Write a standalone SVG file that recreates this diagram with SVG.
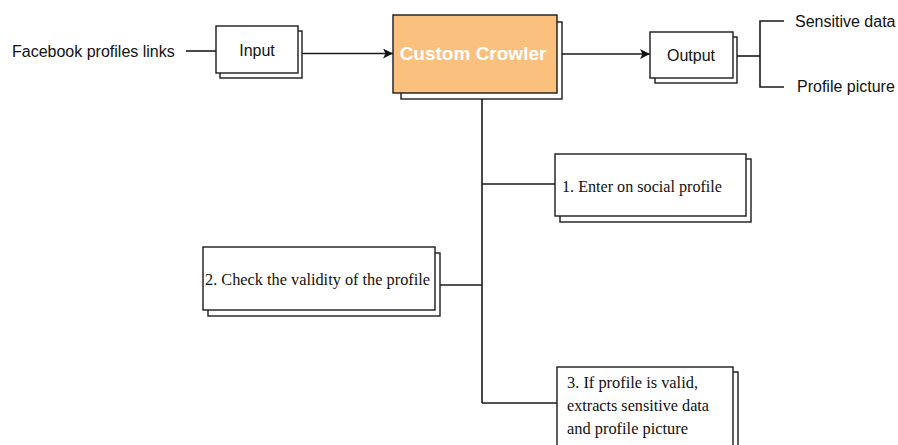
<svg xmlns="http://www.w3.org/2000/svg" width="898" height="445" viewBox="0 0 898 445">
<style>
.box{fill:#fff;stroke:#1a1a1a;stroke-width:1.4}
.main{fill:#F9C17D;stroke:#1a1a1a;stroke-width:1.4}
.ln{fill:none;stroke:#1a1a1a;stroke-width:1.6}
.sans{font-family:"Liberation Sans",Arial,sans-serif;font-size:16px;fill:#111}
.serif{font-family:"Liberation Serif","Times New Roman",serif;font-size:17.5px;fill:#111}
.title{font-family:"Liberation Sans",Arial,sans-serif;font-size:19px;font-weight:bold;fill:#fff}
</style>
<defs>
<marker id="arr" viewBox="0 0 10 10" refX="10" refY="5" markerWidth="10" markerHeight="10" markerUnits="userSpaceOnUse" orient="auto">
<path d="M0,0 L10,5 L0,10 L2.5,5 z" fill="#111"/>
</marker>
</defs>
<rect width="898" height="445" fill="#fff"/>
<g id="connectors">
<line class="ln" x1="186" y1="51" x2="216" y2="51"/>
<line class="ln" x1="298" y1="53.5" x2="393" y2="53.5" marker-end="url(#arr)"/>
<line class="ln" x1="557" y1="54" x2="650" y2="54" marker-end="url(#arr)"/>
<polyline class="ln" points="737,56 760,56"/>
<polyline class="ln" points="784,21 760,21 760,87 784,87"/>
<line class="ln" x1="482" y1="99" x2="482" y2="403"/>
<line class="ln" x1="482" y1="184" x2="555" y2="184"/>
<line class="ln" x1="440" y1="285" x2="482" y2="285"/>
<line class="ln" x1="482" y1="403" x2="557" y2="403"/>
</g>
<g id="facebook-links">
<text class="sans" x="12" y="56.5">Facebook profiles links</text>
</g>
<g id="input">
<rect class="box" x="220" y="31" width="82" height="47"/>
<rect class="box" x="216" y="26" width="82" height="47"/>
<text class="sans" x="257" y="55.5" text-anchor="middle">Input</text>
</g>
<g id="custom-crowler">
<rect class="box" x="401" y="22" width="161" height="77"/>
<rect class="main" x="393" y="15" width="164" height="78"/>
<text class="title" x="473" y="60" text-anchor="middle">Custom Crowler</text>
</g>
<g id="output">
<rect class="box" x="655" y="37" width="82" height="46"/>
<rect class="box" x="650" y="32" width="83" height="46"/>
<text class="sans" x="691" y="60.5" text-anchor="middle">Output</text>
</g>
<g id="sensitive-data">
<text class="sans" x="795" y="27">Sensitive data</text>
</g>
<g id="profile-picture">
<text class="sans" x="797" y="92">Profile picture</text>
</g>
<g id="step1">
<rect class="box" x="560" y="159" width="191" height="63"/>
<rect class="box" x="555" y="154" width="191" height="62"/>
<text class="serif" x="562" y="191.5" textLength="160" lengthAdjust="spacingAndGlyphs">1. Enter on social profile</text>
</g>
<g id="step2">
<rect class="box" x="208" y="253" width="232" height="63"/>
<rect class="box" x="203" y="247" width="232" height="63"/>
<text class="serif" x="205" y="284.5" textLength="225" lengthAdjust="spacingAndGlyphs">2. Check the validity of the profile</text>
</g>
<g id="step3">
<rect class="box" x="562" y="372" width="176" height="90"/>
<rect class="box" x="557" y="367" width="176" height="90"/>
<text class="serif" x="567" y="387.5" textLength="131" lengthAdjust="spacingAndGlyphs">3. If profile is valid,</text>
<text class="serif" x="567" y="410.5" textLength="142" lengthAdjust="spacingAndGlyphs">extracts sensitive data</text>
<text class="serif" x="567" y="433.5" textLength="121" lengthAdjust="spacingAndGlyphs">and profile picture</text>
</g>
</svg>
